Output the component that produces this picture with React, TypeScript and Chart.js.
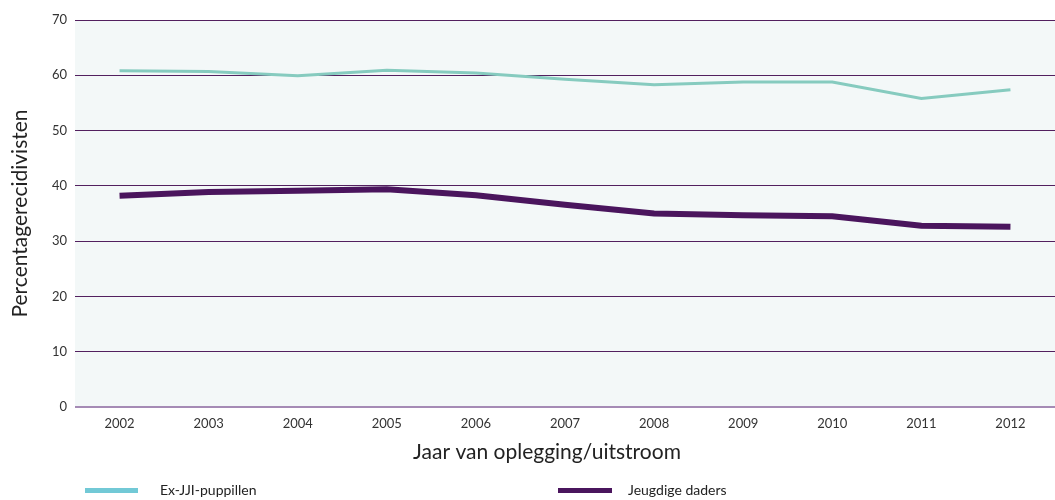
import React, { useEffect, useRef } from "react";
import { Chart, registerables } from "chart.js";

Chart.register(...registerables);

const years = ["2002", "2003", "2004", "2005", "2006", "2007", "2008", "2009", "2010", "2011", "2012"];
const exJJI = [60.8, 60.7, 59.9, 60.9, 60.4, 59.3, 58.3, 58.8, 58.8, 55.8, 57.4];
const jeugdigeDaders = [38.2, 38.9, 39.1, 39.4, 38.3, 36.6, 35.0, 34.7, 34.5, 32.8, 32.6];
const yTicks = [0, 10, 20, 30, 40, 50, 60, 70];
const xTitle = "Jaar van oplegging/uitstroom";

const TEAL_LINE = "#86cbbf";
const TEAL_LEGEND = "#72c9d6";
const PURPLE = "#4a155d";
const FONT = "Lato, 'Open Sans', sans-serif";

const bgPlugin = {
  id: "plotBg",
  beforeDraw(chart: any) {
    const { ctx, chartArea } = chart;
    ctx.save();
    ctx.fillStyle = "#f3f8f8";
    ctx.fillRect(chartArea.left, chartArea.top, chartArea.right - chartArea.left, chartArea.bottom - chartArea.top);
    ctx.restore();
  },
};

const xTitlePlugin = {
  id: "xTitle",
  afterDraw(chart: any) {
    const { ctx, chartArea } = chart;
    ctx.save();
    ctx.font = `21px ${FONT}`;
    ctx.fillStyle = "#222";
    ctx.textAlign = "center";
    ctx.textBaseline = "middle";
    ctx.fillText(xTitle, (chartArea.left + chartArea.right) / 2 - 18, chartArea.bottom + 45);
    ctx.restore();
  },
};

export default function App() {
  const ref = useRef<HTMLCanvasElement | null>(null);

  useEffect(() => {
    if (!ref.current) return;
    const chart = new Chart(ref.current, {
      type: "line",
      data: {
        labels: years,
        datasets: [
          {
            label: "Ex-JJI-puppillen",
            data: exJJI,
            borderColor: TEAL_LINE,
            backgroundColor: TEAL_LEGEND,
            borderWidth: 3,
            pointRadius: 0,
            tension: 0,
          },
          {
            label: "Jeugdige daders",
            data: jeugdigeDaders,
            borderColor: PURPLE,
            backgroundColor: PURPLE,
            borderWidth: 6,
            pointRadius: 0,
            tension: 0,
          },
        ],
      },
      options: {
        animation: false,
        responsive: false,
        maintainAspectRatio: false,
        layout: { padding: { top: 20, bottom: 36, left: 0, right: 0 } },
        plugins: {
          legend: { display: false },
          tooltip: { enabled: false },
        },
        scales: {
          x: {
            offset: true,
            grid: { display: false, drawTicks: false },
            border: { display: false },
            ticks: {
              padding: 9,
              color: "#333",
              font: { family: FONT, size: 13 },
              maxRotation: 0,
            },
            afterFit(scale: any) {
              scale.height = 57;
            },
          },
          y: {
            min: 0,
            max: 70,
            afterBuildTicks(scale: any) {
              scale.ticks = yTicks.map((v) => ({ value: v }));
            },
            grid: {
              drawTicks: false,
              color: (ctx: any) => (ctx.tick && ctx.tick.value === 0 ? "#a58bb5" : "#52205f"),
              lineWidth: (ctx: any) => (ctx.tick && ctx.tick.value === 0 ? 2 : 1),
            },
            border: { display: false },
            ticks: {
              padding: 8,
              color: "#333",
              font: { family: FONT, size: 13 },
            },
            title: {
              display: true,
              text: "Percentagerecidivisten",
              color: "#222",
              font: { family: FONT, size: 21 },
              padding: { top: 8, bottom: 0 },
            },
            afterFit(scale: any) {
              scale.width = 75;
            },
          },
        },
      },
      plugins: [bgPlugin, xTitlePlugin],
    });
    return () => chart.destroy();
  }, []);

  return (
    <div style={{ position: "absolute", left: 0, top: 0, width: 1055, height: 500, background: "#fff" }}>
      <canvas ref={ref} width={1055} height={500} style={{ display: "block" }} />
      <div style={{ position: "absolute", left: 85, top: 488, width: 53, height: 5, background: TEAL_LEGEND }} />
      <div style={{ position: "absolute", left: 160, top: 481, fontFamily: FONT, fontSize: 14, color: "#222", lineHeight: "18px" }}>
        Ex-JJI-puppillen
      </div>
      <div style={{ position: "absolute", left: 558, top: 488, width: 54, height: 5, background: PURPLE }} />
      <div style={{ position: "absolute", left: 628, top: 481, fontFamily: FONT, fontSize: 14, color: "#222", lineHeight: "18px" }}>
        Jeugdige daders
      </div>
    </div>
  );
}
